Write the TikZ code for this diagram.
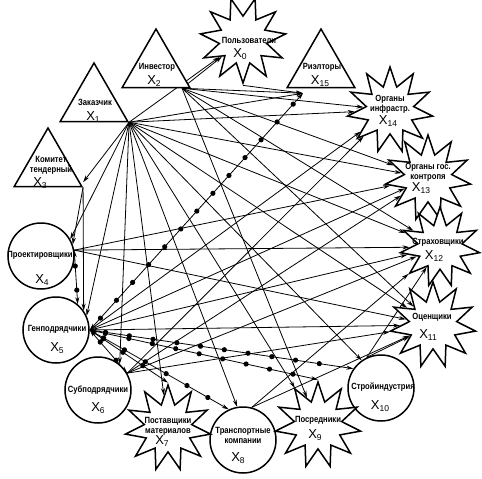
\documentclass[tikz,border=0pt]{standalone}
\usepackage{fontspec}
\setmainfont{Liberation Sans}
\newfontfamily\namefont[FakeStretch=0.85]{Liberation Sans}
\usetikzlibrary{shapes.geometric, arrows.meta, decorations.markings, backgrounds}
\newcommand\xsub[1]{X\raisebox{-1.5pt}{\fontsize{8.5}{8.5}\selectfont #1}}

\tikzset{
  tri/.style={regular polygon, regular polygon sides=3, minimum size=78pt, inner sep=0pt, draw, line width=1.5pt, fill=white},
  ring/.style={circle, minimum size=66pt, inner sep=0pt, draw, line width=1.5pt, fill=white},
  burst/.style={star, star points=11, star point ratio=1.8, minimum size=86pt, inner sep=0pt, draw, line width=1.5pt, fill=white},
  nm/.style={font=\namefont\bfseries\fontsize{9}{10}\selectfont, align=center, inner sep=0pt},
  xl/.style={font=\fontsize{13}{13}\selectfont, inner sep=0pt},
  link/.style={line width=0.8pt, -{Stealth[length=7pt,width=4pt]}},
  dotlink/.style={line width=0.8pt, {Stealth[length=7pt,width=4pt]}-{Stealth[length=7pt,width=4pt]},
    postaction={decorate},
    decoration={markings, mark=between positions 16pt and -12pt step 24pt with {\fill (0,0) circle (2.6pt);}}}
}

\begin{document}
\begin{tikzpicture}[x=1pt, y=-1pt]
  \useasboundingbox (0,0) rectangle (482,479);

  % triangles
  \node[tri] (t1) at (94,102) {};
  \node[tri] (t2) at (156,68) {};
  \node[tri] (t15) at (321,68) {};
  \node[tri] (t3) at (48,167) {};
  % circles
  \node[ring] (c4) at (41,256) {};
  \node[ring] (c5) at (56,330) {};
  \node[ring] (c6) at (98,390) {};
  \node[ring] (c8) at (243,440) {};
  \node[ring] (c10) at (381,388) {};
  % stars
  \node[burst, shape border rotate=180] (s0) at (243,40) {};
  \node[burst] (s14) at (390,110) {};
  \node[burst] (s13) at (428,178) {};
  \node[burst, minimum size=80pt] (s12) at (440,247) {};
  \node[burst] (s11) at (433,325) {};
  \node[burst] (s9) at (318,425) {};
  \node[burst] (s7) at (168,428) {};

  % labels
  \node[nm] (n0) at (249,40) {Пользователи};
  \node[xl] (x0) at (240,54) {\xsub{0}};
  \node[nm] (n1) at (95,102) {Заказчик};
  \node[xl] (x1) at (93,117) {\xsub{1}};
  \node[nm] (n2) at (157,67) {Инвестор};
  \node[xl] (x2) at (154,81) {\xsub{2}};
  \node[nm] (n3) at (51,165) {Комитет\\тендерный};
  \node[xl] (x3) at (40,183) {\xsub{3}};
  \node[nm] (n4) at (40,255) {Проектировщики};
  \node[xl] (x4) at (42,280) {\xsub{4}};
  \node[nm] (n5) at (57,329) {Генподрядчики};
  \node[xl] (x5) at (57,348) {\xsub{5}};
  \node[nm] (n6) at (98,390) {Субподрядчики};
  \node[xl] (x6) at (98,408) {\xsub{6}};
  \node[nm] (n7) at (168,426) {Поставщики\\материалов};
  \node[xl] (x7) at (162,441) {\xsub{7}};
  \node[nm] (n8) at (243,435) {Транспортные\\компании};
  \node[xl] (x8) at (238,458) {\xsub{8}};
  \node[nm] (n9) at (318,420) {Посредники};
  \node[xl] (x9) at (315,435) {\xsub{9}};
  \node[nm] (n10) at (383,387) {Стройиндустрия};
  \node[xl] (x10) at (380,406) {\xsub{10}};
  \node[nm] (n11) at (432,317) {Оценщики};
  \node[xl] (x11) at (428,335) {\xsub{11}};
  \node[nm] (n12) at (438,242) {Страховщики};
  \node[xl] (x12) at (434,256) {\xsub{12}};
  \node[nm] (n13) at (428,172) {Органы гос.\\контропя};
  \node[xl] (x13) at (421,188) {\xsub{13}};
  \node[nm] (n14) at (390,104) {Органы\\инфрастр.};
  \node[xl] (x14) at (388,121) {\xsub{14}};
  \node[nm] (n15) at (322,67) {Риэлторы};
  \node[xl] (x15) at (320,81) {\xsub{15}};

  % hubs
  \coordinate (h1) at (t1.corner 3);
  \coordinate (h2) at ([xshift=-9pt]t2.corner 3);
  \coordinate (h15) at ([xshift=-18pt,yshift=-5pt]t15.south);
  \coordinate (h3) at (t3.corner 3);
  \coordinate (h3in) at ([yshift=5pt]t3.corner 3);
  \coordinate (h4) at (c4.10);
  \coordinate (h5) at (c5.east);
  \coordinate (h6) at (c6.30);
  \coordinate (h8) at (c8.75);
  \coordinate (h10) at (c10.115);

  \begin{scope}[on background layer]
    \foreach \t in {s0, h15, s14, s13, s12, s11, c10.125, s9, c8.100, s7, c6.50, c5.25, c4.30, h3in}
      \draw[link] (h1) -- (\t);
    \foreach \t in {s0, h15, s14, s13, s12, s11, s9}
      \draw[link] (h2) -- (\t);
    \draw[link] (s0.south) -- (h15);
    \draw[link] (h3) -- (c4.20);
    \draw[link] (h3) -- (c5.35);
    \foreach \t in {s13, s12, s11}
      \draw[link] (h4) -- (\t);
    \foreach \t in {s14, s13, s12, s11} {
      \draw[link] (h5) -- (\t);
      \draw[link] (h6) -- (\t);
    }
    \foreach \t in {s12, s11} {
      \draw[link] (h8) -- (\t);
      \draw[link] (h10) -- (\t);
    }
    % dotted links
    \draw[dotlink] (h4) -- (c5.50);
    \foreach \t in {h15, c10.145, s9.north, c8.115, s7.north, h6}
      \draw[dotlink] (h5) -- (\t);
  \end{scope}
\end{tikzpicture}
\end{document}
